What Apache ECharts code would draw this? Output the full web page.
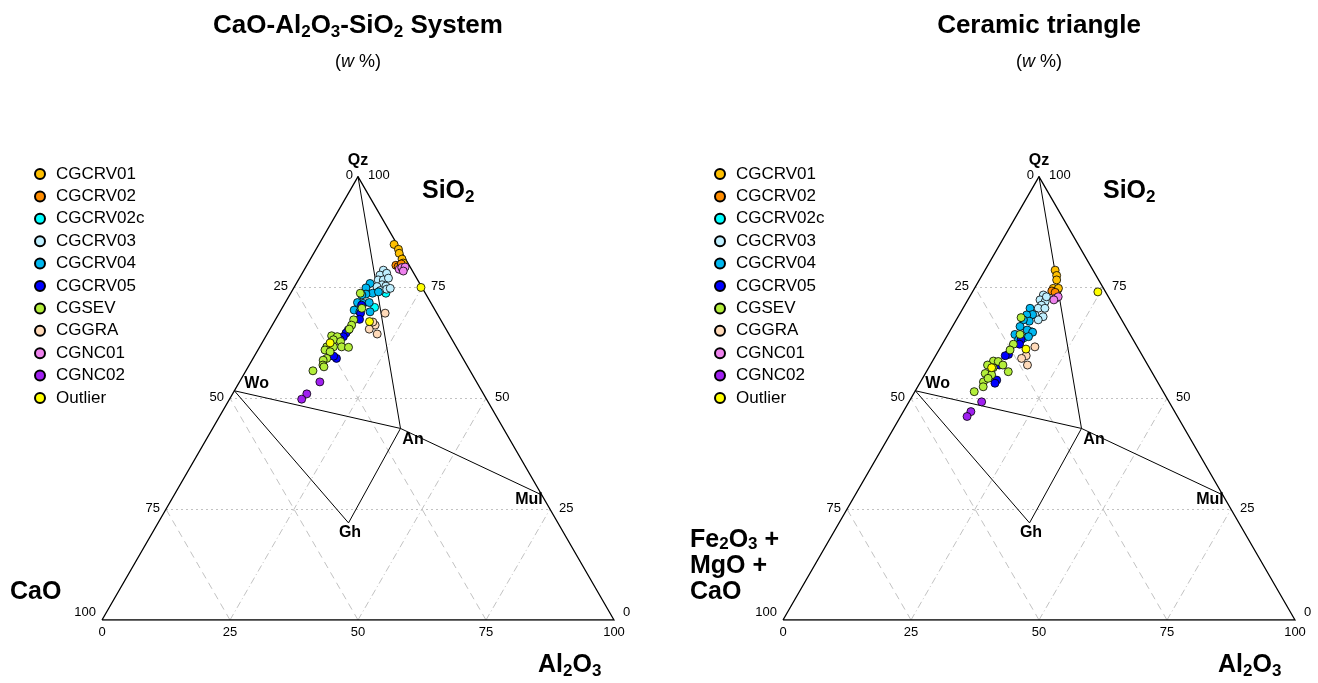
<!DOCTYPE html>
<html>
<head>
<meta charset="utf-8">
<script src="https://cdn.jsdelivr.net/npm/echarts@6/dist/echarts.min.js"></script>
<style>
  html, body { margin: 0; padding: 0; background: #fff; }
  #chart { width: 1318px; height: 683px; }
</style>
</head>
<body>
<div id="chart"></div>
<script>
// Sample groups and their marker colours
const groups = ['CGCRV01', 'CGCRV02', 'CGCRV02c', 'CGCRV03', 'CGCRV04', 'CGCRV05', 'CGSEV', 'CGGRA', 'CGNC01', 'CGNC02', 'Outlier'];
const groupColors = ['#FFC000', '#FF8C00', '#00FFFF', '#BFEFFF', '#00B7F0', '#0000FF', '#B3EE3A', '#FFDAB9', '#EE82EE', '#A020F0', '#FFFF00'];

// Compositions, each [SiO2, Al2O3, CaO] in wt %
const cas_CGCRV01 = [[84.7, 14.7, 0.6], [83.6, 16.1, 0.3], [82.7, 16.7, 0.6], [81.4, 17.9, 0.7], [80.5, 18.6, 0.9]];
const cas_CGCRV02 = [[80.0, 17.4, 2.6], [79.7, 18.0, 2.3], [80.3, 18.3, 1.4]];
const cas_CGCRV02c = [[73.7, 18.6, 7.7], [70.5, 18.0, 11.5]];
const cas_CGCRV03 = [[78.9, 15.5, 5.6], [77.8, 15.4, 6.8], [78.2, 16.5, 5.3], [76.7, 15.6, 7.7], [76.7, 16.6, 6.7], [77.1, 17.4, 5.5],
  [75.6, 16.9, 7.5], [75.2, 16.1, 8.7], [75.3, 17.8, 6.9], [74.3, 17.2, 8.5], [74.6, 18.3, 7.1], [74.8, 18.9, 6.3]];
const cas_CGCRV04 = [[75.9, 14.4, 9.7], [74.9, 14.1, 11.0], [73.7, 16.0, 10.3], [73.5, 14.8, 11.7], [73.3, 14.1, 12.6], [71.6, 14.1, 14.3],
  [71.4, 15.3, 13.3], [71.6, 16.4, 12.0], [69.9, 14.3, 15.8], [69.5, 15.6, 14.9], [69.5, 17.6, 12.9], [74.0, 17.0, 9.0]];
const cas_CGCRV05 = [[71.0, 15.2, 13.8], [69.2, 15.9, 14.9], [67.8, 16.4, 15.8], [65.4, 15.4, 19.2], [64.7, 15.3, 20.0], [63.9, 15.2, 20.9],
  [63.2, 14.9, 21.9], [59.0, 16.3, 24.7], [59.5, 15.5, 25.0]];
const cas_CGSEV = [[73.7, 13.6, 12.7], [70.3, 15.6, 14.1], [67.7, 15.3, 17.0], [66.5, 15.5, 18.0], [65.6, 15.5, 18.9], [64.1, 12.8, 23.1],
  [63.9, 14.0, 22.1], [63.2, 13.6, 23.2], [62.8, 15.2, 22.0], [61.6, 13.1, 25.3], [61.6, 14.4, 24.0], [61.6, 16.0, 22.4],
  [61.5, 17.4, 21.1], [60.9, 13.1, 26.0], [60.5, 14.3, 25.2], [59.0, 14.4, 26.6], [58.6, 13.9, 27.5], [57.5, 14.4, 28.1],
  [57.1, 14.8, 28.1], [56.2, 13.1, 30.7]];
const cas_CGGRA = [[69.2, 20.7, 10.1], [66.5, 20.1, 13.4], [65.6, 19.4, 15.0], [64.5, 21.5, 14.0], [67.2, 19.3, 13.5]];
const cas_CGNC01 = [[79.1, 18.5, 2.4], [79.5, 18.8, 1.7], [79.6, 19.4, 1.0], [78.7, 19.5, 1.8]];
const cas_CGNC02 = [[53.7, 15.7, 30.6], [51.0, 14.5, 34.5], [49.8, 14.1, 36.1]];
const cas_Outlier = [[75.0, 24.8, 0.2], [67.3, 18.6, 14.1], [62.5, 13.3, 24.2]];

// Compositions, each [SiO2, Al2O3, Fe2O3 + MgO + CaO] in wt %
const cer_CGCRV01 = [[78.9, 13.7, 7.4], [77.7, 14.6, 7.7], [76.7, 15.1, 8.2], [74.8, 15.4, 9.8], [74.4, 16.4, 9.2], [74.8, 16.4, 8.8]];
const cer_CGCRV02 = [[74.2, 15.4, 10.4], [73.9, 16.2, 9.9]];
const cer_CGCRV02c = [[65.0, 16.0, 19.0], [63.6, 15.2, 21.2]];
const cer_CGCRV03 = [[73.3, 14.2, 12.5], [72.2, 14.1, 13.7], [71.8, 15.3, 12.9], [71.0, 15.0, 14.0], [70.3, 14.7, 15.0], [70.3, 16.0, 13.7],
  [68.8, 14.8, 16.4], [68.4, 16.6, 15.0], [67.7, 16.0, 16.3], [72.9, 15.0, 12.1]];
const cer_CGCRV04 = [[70.3, 13.1, 16.6], [68.9, 14.3, 16.8], [68.8, 13.2, 18.0], [67.4, 14.4, 18.2], [67.7, 13.1, 19.2], [66.2, 13.2, 20.6],
  [65.4, 15.0, 19.6], [64.9, 16.3, 18.8], [64.4, 13.1, 22.5], [63.9, 16.0, 20.1], [63.2, 14.4, 22.4]];
const cer_CGCRV05 = [[63.2, 14.9, 21.9], [62.2, 15.1, 22.7], [59.9, 14.1, 26.0], [59.6, 13.6, 26.8], [54.1, 14.7, 31.2], [53.4, 14.7, 31.9],
  [57.5, 13.5, 29.0]];
const cer_CGSEV = [[68.2, 12.4, 19.4], [64.4, 14.1, 21.5], [62.2, 13.9, 23.9], [60.9, 13.9, 25.2], [58.4, 11.9, 29.7], [58.3, 12.9, 28.8],
  [57.5, 11.2, 31.3], [56.9, 12.6, 30.5], [57.5, 14.2, 28.3], [56.0, 16.0, 28.0], [55.6, 11.7, 32.7], [55.3, 13.1, 31.6],
  [53.7, 12.3, 34.0], [54.5, 12.8, 32.7], [52.6, 12.8, 34.6], [51.5, 11.6, 36.9]];
const cer_CGGRA = [[61.6, 18.4, 20.0], [59.6, 17.7, 22.7], [59.0, 17.1, 23.9], [57.5, 19.0, 23.5]];
const cer_CGNC01 = [[72.6, 17.0, 10.4], [72.9, 17.3, 9.8], [72.2, 16.8, 11.0]];
const cer_CGNC02 = [[49.2, 14.2, 36.6], [47.0, 13.2, 39.8], [45.9, 13.0, 41.1]];
const cer_Outlier = [[74.0, 24.5, 1.5], [61.1, 16.9, 22.0], [56.9, 12.3, 30.8]];

// Reference phases [SiO2, Al2O3, CaO] and the tie lines between them
const phaseNames = ['Qz', 'Wo', 'An', 'Gh', 'Mul'];
const phaseComp = [[100, 0, 0], [51.7, 0, 48.3], [43.2, 36.7, 20.1], [21.9, 37.2, 40.9], [28.2, 71.8, 0]];
const tieLines = [['Qz', 'An'], ['Wo', 'An'], ['An', 'Mul'], ['Wo', 'Gh'], ['Gh', 'An']];

// Tick values along each side and interior grid levels
const tickValues = [0, 25, 50, 75, 100];
const gridLevels = [25, 50, 75];

const casSets = [cas_CGCRV01, cas_CGCRV02, cas_CGCRV02c, cas_CGCRV03, cas_CGCRV04, cas_CGCRV05, cas_CGSEV, cas_CGGRA, cas_CGNC01, cas_CGNC02, cas_Outlier];
const cerSets = [cer_CGCRV01, cer_CGCRV02, cer_CGCRV02c, cer_CGCRV03, cer_CGCRV04, cer_CGCRV05, cer_CGSEV, cer_CGGRA, cer_CGNC01, cer_CGNC02, cer_Outlier];

const H = Math.sqrt(3) / 2;
const FONT = '"Liberation Sans", Arial, Helvetica, sans-serif';

// Ternary composition -> cartesian position inside a unit-100 equilateral triangle
function toXY(p) {
  const t = p[0] + p[1] + p[2];
  const s = p[0] / t, a = p[1] / t;
  return [100 * (a + s / 2), 100 * s * H];
}
const seg = (a, b) => ({ coords: [toXY(a), toXY(b)] });

// Text placement relative to the anchor point, in pixels
const phaseLabelStyle = {
  Qz: { dx: 0, dy: -16, align: 'center' },
  Wo: { dx: 10, dy: -7, align: 'left' },
  An: { dx: 12.5, dy: 11.5, align: 'center' },
  Gh: { dx: 1.5, dy: 10, align: 'center' },
  Mul: { dx: 1, dy: 5, align: 'right' }
};

// Custom series drawing plain black text anchored at data points
function textSeries(p, items, font) {
  return {
    type: 'custom', xAxisIndex: p, yAxisIndex: p, silent: true, z: 4,
    data: items.map(it => it.value),
    renderItem: (params, api) => {
      const it = items[params.dataIndex];
      const pt = api.coord([api.value(0), api.value(1)]);
      return {
        type: 'text', x: pt[0] + it.dx, y: pt[1] + it.dy,
        style: { text: it.text, fill: '#000', font: font, align: it.align, verticalAlign: 'middle' }
      };
    }
  };
}

function panelSeries(p, sets) {
  const ax = { xAxisIndex: p, yAxisIndex: p };
  const out = [];
  const gridStyle = (type) => ({ color: '#c2c2c2', width: 1, opacity: 1, type: type });
  const dotted = [], dashDot = [], dashed = [];
  gridLevels.forEach(k => {
    dotted.push(seg([k, 0, 100 - k], [k, 100 - k, 0]));
    dashDot.push(seg([0, k, 100 - k], [100 - k, k, 0]));
    dashed.push(seg([0, 100 - k, k], [100 - k, 0, k]));
  });
  [[dotted, [2, 3]], [dashDot, [7, 3, 1, 3]], [dashed, [7, 5]]].forEach(([d, t]) => {
    out.push({ type: 'lines', coordinateSystem: 'cartesian2d', ...ax, silent: true, z: 1, lineStyle: gridStyle(t), data: d });
  });
  // triangle frame
  out.push({
    type: 'lines', coordinateSystem: 'cartesian2d', ...ax, polyline: true, silent: true, z: 3,
    lineStyle: { color: '#000', width: 1.3, opacity: 1 },
    data: [{ coords: [toXY([0, 0, 100]), toXY([0, 100, 0]), toXY([100, 0, 0]), toXY([0, 0, 100])] }]
  });
  // tie lines between phases
  out.push({
    type: 'lines', coordinateSystem: 'cartesian2d', ...ax, silent: true, z: 2,
    lineStyle: { color: '#000', width: 1, opacity: 1 },
    data: tieLines.map(([a, b]) => seg(phaseComp[phaseNames.indexOf(a)], phaseComp[phaseNames.indexOf(b)]))
  });
  // phase labels
  out.push(textSeries(p, phaseNames.map((n, i) => ({ value: toXY(phaseComp[i]), text: n, ...phaseLabelStyle[n] })), 'bold 16px ' + FONT));
  // tick labels on the three sides
  const ticks = [];
  tickValues.forEach(v => {
    ticks.push({ value: toXY([0, v, 100 - v]), text: String(v), dx: 0, dy: 12, align: 'center' });
    ticks.push({ value: toXY([100 - v, 0, v]), text: String(v), dx: v === 0 ? -5 : -6, dy: v === 100 ? -8 : -1, align: 'right' });
    ticks.push({ value: toXY([v, 100 - v, 0]), text: String(v), dx: v === 100 ? 10 : 9, dy: v === 0 ? -8 : -1, align: 'left' });
  });
  out.push(textSeries(p, ticks, '13px ' + FONT));
  // samples
  groups.forEach((g, i) => {
    out.push({
      type: 'scatter', name: g, ...ax, z: 5, symbolSize: 8,
      itemStyle: { color: groupColors[i], borderColor: '#000', borderWidth: 0.8, opacity: 1 },
      emphasis: { disabled: true },
      data: sets[i].map(toXY)
    });
  });
  return out;
}

const richSub = (size, subSize, lh) => ({
  b: { fontSize: size, fontWeight: 'bold', fontFamily: FONT, lineHeight: lh, color: '#000' },
  s: { fontSize: subSize, fontWeight: 'bold', fontFamily: FONT, lineHeight: subSize - 2, verticalAlign: 'bottom', color: '#000' }
});

function label(text, x, y, align, size, subSize, lh) {
  return {
    type: 'text', x: x, y: y, silent: true,
    style: { text: text, rich: richSub(size, subSize, lh), align: align, verticalAlign: 'middle', fill: '#000' }
  };
}

const graphics = [];
[[358, '{b|CaO-Al}{s|2}{b|O}{s|3}{b|-SiO}{s|2}{b| System}'], [1039, '{b|Ceramic triangle}']].forEach(([cx, t]) => {
  graphics.push(label(t, cx, 26, 'center', 26, 17, 30));
  graphics.push({
    type: 'text', x: cx, y: 62, silent: true,
    style: {
      text: '({i|w} %)', align: 'center', verticalAlign: 'middle', fill: '#000',
      font: '18px ' + FONT,
      rich: { i: { fontStyle: 'italic', fontSize: 18, fontFamily: FONT, color: '#000' } }
    }
  });
});
graphics.push(label('{b|SiO}{s|2}', 422, 191, 'left', 25, 17, 30));
graphics.push(label('{b|CaO}', 10, 592, 'left', 25, 17, 30));
graphics.push(label('{b|Al}{s|2}{b|O}{s|3}', 538, 665, 'left', 25, 17, 30));
graphics.push(label('{b|SiO}{s|2}', 1103, 191, 'left', 25, 17, 30));
graphics.push(label('{b|Fe}{s|2}{b|O}{s|3}{b| +}\n{b|MgO +}\n{b|CaO}', 690, 566, 'left', 25, 17, 26));
graphics.push(label('{b|Al}{s|2}{b|O}{s|3}', 1218, 665, 'left', 25, 17, 30));

const chart = echarts.init(document.getElementById('chart'));
chart.setOption({
  animation: false,
  backgroundColor: '#fff',
  grid: [
    { left: 102, top: 176.6, width: 512, height: 443.4 },
    { left: 783, top: 176.6, width: 512, height: 443.4 }
  ],
  xAxis: [0, 1].map(i => ({ gridIndex: i, type: 'value', min: 0, max: 100, show: false })),
  yAxis: [0, 1].map(i => ({ gridIndex: i, type: 'value', min: 0, max: 100 * H, show: false })),
  legend: [29, 709].map(x => ({
    orient: 'vertical', left: x, top: 160, data: groups, icon: 'circle',
    itemWidth: 22, itemHeight: 10, itemGap: 4.4, selectedMode: false,
    textStyle: { fontSize: 17, lineHeight: 18, color: '#000', fontFamily: FONT }
  })),
  graphic: graphics,
  series: [...panelSeries(0, casSets), ...panelSeries(1, cerSets)]
});
</script>
</body>
</html>
